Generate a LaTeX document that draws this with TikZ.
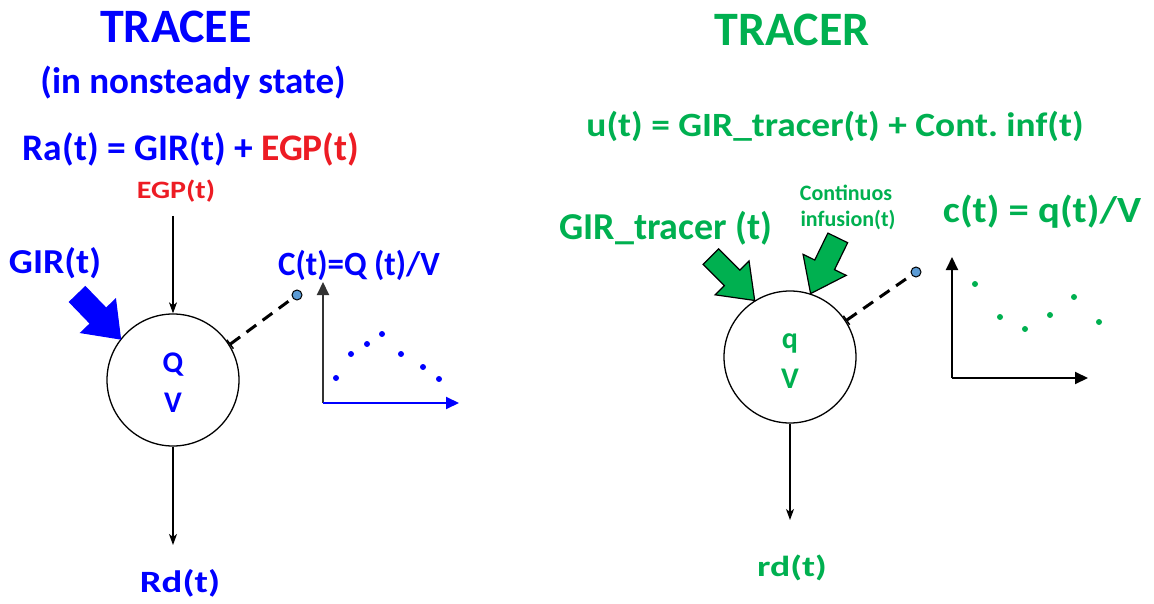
\documentclass[tikz,border=0pt]{standalone}
\usepackage{graphicx}
\usepackage{fontspec}
\setmainfont{Carlito}
\usetikzlibrary{arrows.meta}
\frenchspacing
\definecolor{tblue}{RGB}{0,0,255}
\definecolor{tred}{RGB}{237,28,36}
\definecolor{tgreen}{RGB}{0,176,80}
\definecolor{dotblue}{RGB}{91,155,213}
\definecolor{axgray}{RGB}{50,50,50}
\newcommand\myfs[1]{\fontsize{#1}{#1}\selectfont}
\newcommand\sx[2]{\scalebox{#1}[1]{#2}}
\newcommand\blockarr[4]{%
  \begin{scope}[shift={(#1)}, rotate=#2, x=1pt, y=1pt]
    \draw[fill=#3, draw=#4, line width=1.2pt, line join=miter]
      (0,0) -- (-32,24) -- (-32,11) -- (-62,11) -- (-62,-11) -- (-32,-11) -- (-32,-24) -- cycle;
  \end{scope}}
\begin{document}
\begin{tikzpicture}[x=1pt,y=-1pt,
  lbl/.style={font=\bfseries, inner sep=0pt, anchor=base},
  comp/.style={circle, draw=black, line width=1.3pt, minimum size=132pt, inner sep=0pt},
  flow/.style={line width=1.1pt, -{Stealth[length=11pt,width=8pt,inset=3pt]}},
  probe/.style={line width=3pt, dash pattern=on 12pt off 8pt, {Bar[width=11pt,line width=1.5pt]}-},
  sample/.style={circle, draw=black, fill=dotblue, line width=1pt, minimum size=10pt, inner sep=0pt},
  axis/.style={line width=2pt, -{Triangle[length=13pt,width=12pt]}},
  pt/.style={circle, fill=#1, minimum size=6pt, inner sep=0pt},
]
\useasboundingbox (0,0) rectangle (1154,604);

% ---------------- TRACEE ----------------
\node[lbl, text=tblue, font=\bfseries\myfs{48}] (tracee) at (176,43) {TRACEE};
\node[lbl, text=tblue, font=\bfseries\myfs{37}] (nonst) at (193,94) {(in nonsteady state)};
\node[lbl, text=tblue, font=\bfseries\myfs{37.5}] (ra) at (191,161) {Ra(t) = GIR(t) + \textcolor{tred}{EGP(t)}};
\node[lbl, text=tred, font=\bfseries\myfs{25}] (egp) at (176,199) {\sx{1.2}{EGP(t)}};
\node[lbl, text=tblue, font=\bfseries\myfs{35}] (gir) at (55,273) {\sx{1.08}{GIR(t)}};
\node[lbl, text=tblue, font=\bfseries\myfs{34}] (conc) at (359,276) {\sx{0.97}{C(t)=Q (t)/V}};

\node[comp] (Lc) at (173,380) {};
\node[lbl, text=tblue, font=\bfseries\myfs{30}] (Q) at (173,372) {Q};
\node[lbl, text=tblue, font=\bfseries\myfs{30}] (V) at (173,412) {V};
\node[lbl, text=tblue, font=\bfseries\myfs{31}] (rd) at (180,592) {\sx{1.25}{Rd(t)}};

\coordinate (egpend) at (173,216);
\coordinate (rdend) at (173,545);
\draw[flow] (egpend) -- (Lc.north);
\draw[flow] (Lc.south) -- (rdend);
\blockarr{Lc.142}{-46}{tblue}{tblue}

\node[sample] (Ls) at (297,295) {};
\draw[probe] (Lc.32) -- (Ls);

\coordinate (Lo) at (323,403);
\coordinate (Ly) at (323,282);
\coordinate (Lx) at (459,403);
\draw[axis, draw=axgray, fill=axgray] (Lo) -- (Ly);
\draw[axis, draw=tblue, fill=tblue] (Lo) -- (Lx);
\foreach \px/\py [count=\i] in {336/378, 351/354, 367/344, 382/334, 401/354, 423/367, 439/379}
  \node[pt=tblue] (lp\i) at (\px,\py) {};

% ---------------- TRACER ----------------
\node[lbl, text=tgreen, font=\bfseries\myfs{48}] (tracer) at (792,46) {TRACER};
\node[lbl, text=tgreen, font=\bfseries\myfs{34}] (u) at (835,137) {\sx{1.1}{u(t) = GIR\_tracer(t) + Cont. inf(t)}};
\node[lbl, text=tgreen, font=\bfseries\myfs{38}] (girtr) at (666,240) {GIR\_tracer (t)};
\node[lbl, text=tgreen, font=\bfseries\myfs{22}] (cont1) at (846,201) {Continuos};
\node[lbl, text=tgreen, font=\bfseries\myfs{22}] (cont2) at (848,226) {infusion(t)};
\node[lbl, text=tgreen, font=\bfseries\myfs{37}] (ct) at (1042,223) {\sx{1.1}{c(t) = q(t)/V}};

\node[comp] (Rc) at (790,357) {};
\node[lbl, text=tgreen, font=\bfseries\myfs{30}] (q) at (790,348) {q};
\node[lbl, text=tgreen, font=\bfseries\myfs{30}] (V2) at (790,388) {V};
\node[lbl, text=tgreen, font=\bfseries\myfs{29}] (rd2) at (792,576) {\sx{1.3}{rd(t)}};

\coordinate (rd2end) at (790,520);
\draw[flow] (Rc.south) -- (rd2end);
\blockarr{Rc.122}{-45}{tgreen}{black}
\blockarr{Rc.72}{-116}{tgreen}{black}

\node[sample] (Rs) at (916,272) {};
\draw[probe] (Rc.33) -- (Rs);

\coordinate (Ro) at (952,378);
\coordinate (Ry) at (952,257);
\coordinate (Rx) at (1088,378);
\draw[axis, draw=black, fill=black] (Ro) -- (Ry);
\draw[axis, draw=black, fill=black] (Ro) -- (Rx);
\foreach \px/\py [count=\i] in {975/284, 1000/317, 1025/329, 1050/315, 1074/297, 1099/322}
  \node[pt=tgreen] (rp\i) at (\px,\py) {};
\end{tikzpicture}
\end{document}
